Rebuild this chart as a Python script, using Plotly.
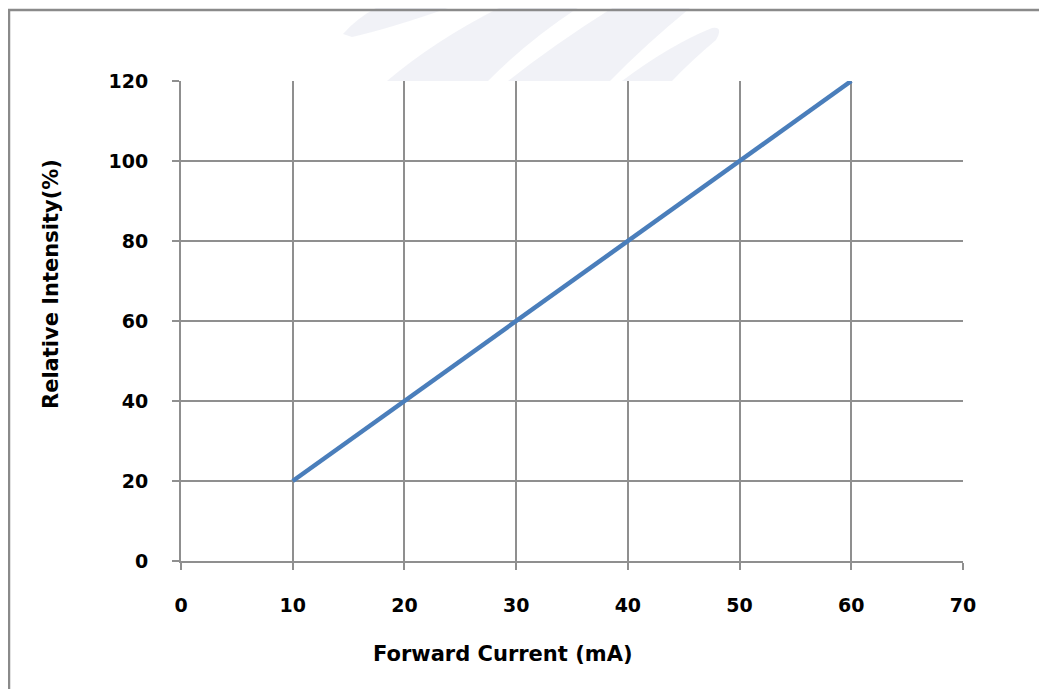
import plotly.graph_objects as go

# Data
forward_current = [10, 20, 30, 40, 50, 60]
relative_intensity = [20, 40, 60, 80, 100, 120]
x_ticks = [0, 10, 20, 30, 40, 50, 60, 70]
y_ticks = [0, 20, 40, 60, 80, 100, 120]

# page offset (body margin) compensation
OFF = 8
W, H = 1047 - OFF, 689 - OFF
# plot area in reference screenshot pixels
RL, RR, RT, RB = 181, 963, 81, 561
L, R, T, B = RL - OFF, RR - OFF, RT - OFF, RB - OFF


def px(x, y):
    """reference screenshot pixel -> paper coordinates"""
    return (x - RL) / (RR - RL), (RB - y) / (RB - RT)


def path(cmds):
    out = []
    for c in cmds:
        if isinstance(c, str):
            out.append(c)
        else:
            a, b = px(*c)
            out.append(f"{a:.4f},{b:.4f}")
    return " ".join(out)


fig = go.Figure()
fig.add_trace(go.Scatter(
    x=forward_current, y=relative_intensity, mode="lines",
    line=dict(color="#4a7ebb", width=4.5), showlegend=False,
))

grid = "#8f8f8f"
tickfont = dict(family="DejaVu Sans", size=19, color="#000000", weight="bold")

fig.update_xaxes(
    range=[0, 70], tickvals=x_ticks, showgrid=True, gridcolor=grid, gridwidth=1.5,
    showline=True, linecolor=grid, linewidth=2, ticks="outside", ticklen=7,
    tickcolor=grid, tickwidth=2, tickfont=tickfont, zeroline=False,
    ticklabelstandoff=19,
)
fig.update_yaxes(
    range=[0, 120], tickvals=y_ticks, showgrid=True, gridcolor=grid, gridwidth=1.5,
    showline=True, linecolor=grid, linewidth=2, ticks="outside", ticklen=7,
    tickcolor=grid, tickwidth=2, tickfont=tickfont, zeroline=False,
    ticklabelstandoff=20,
)

shapes = []
wm = "rgba(236,238,244,0.75)"
# faint watermark swooshes
for cmds in [
    ["M", (343, 34), "Q", (360, 14), (392, 0), "L", (470, 0), "Q", (400, 26), (352, 37), "Z"],
    ["M", (387, 81), "Q", (440, 36), (515, 0), "L", (590, 0), "Q", (530, 38), (488, 81), "Z"],
    ["M", (508, 81), "Q", (560, 40), (625, 0), "L", (700, 0), "Q", (650, 40), (610, 81), "Z"],
    ["M", (622, 81), "Q", (670, 45), (712, 28), "Q", (724, 26), (716, 40), "Q", (690, 62), (672, 81), "Z"],
]:
    shapes.append(dict(type="path", xref="paper", yref="paper", path=path(cmds),
                       fillcolor=wm, line=dict(width=0), layer="below"))

# outer chart border
x0, y1 = px(9, 10)
x1, y0 = px(1060, 700)
shapes.append(dict(type="rect", xref="paper", yref="paper", x0=x0, y0=y0, x1=x1, y1=y1,
                   line=dict(color="#8a8a8a", width=2.5), fillcolor="rgba(0,0,0,0)"))

ax, ay = px(51, 284)
bx, by = px(503, 654)
annotations = [
    dict(text="Relative Intensity(%)", xref="paper", yref="paper", x=ax, y=ay,
         textangle=-90, showarrow=False, xanchor="center", yanchor="middle",
         font=dict(family="DejaVu Sans", size=21, color="#000000", weight="bold")),
    dict(text="Forward Current (mA)", xref="paper", yref="paper", x=bx, y=by,
         showarrow=False, xanchor="center", yanchor="middle",
         font=dict(family="DejaVu Sans", size=21, color="#000000", weight="bold")),
]

fig.update_layout(
    width=W, height=H, autosize=False,
    margin=dict(l=L, r=W - R, t=T, b=H - B, pad=0),
    paper_bgcolor="#ffffff", plot_bgcolor="rgba(0,0,0,0)",
    shapes=shapes, annotations=annotations,
)

fig.write_html("out.html")
